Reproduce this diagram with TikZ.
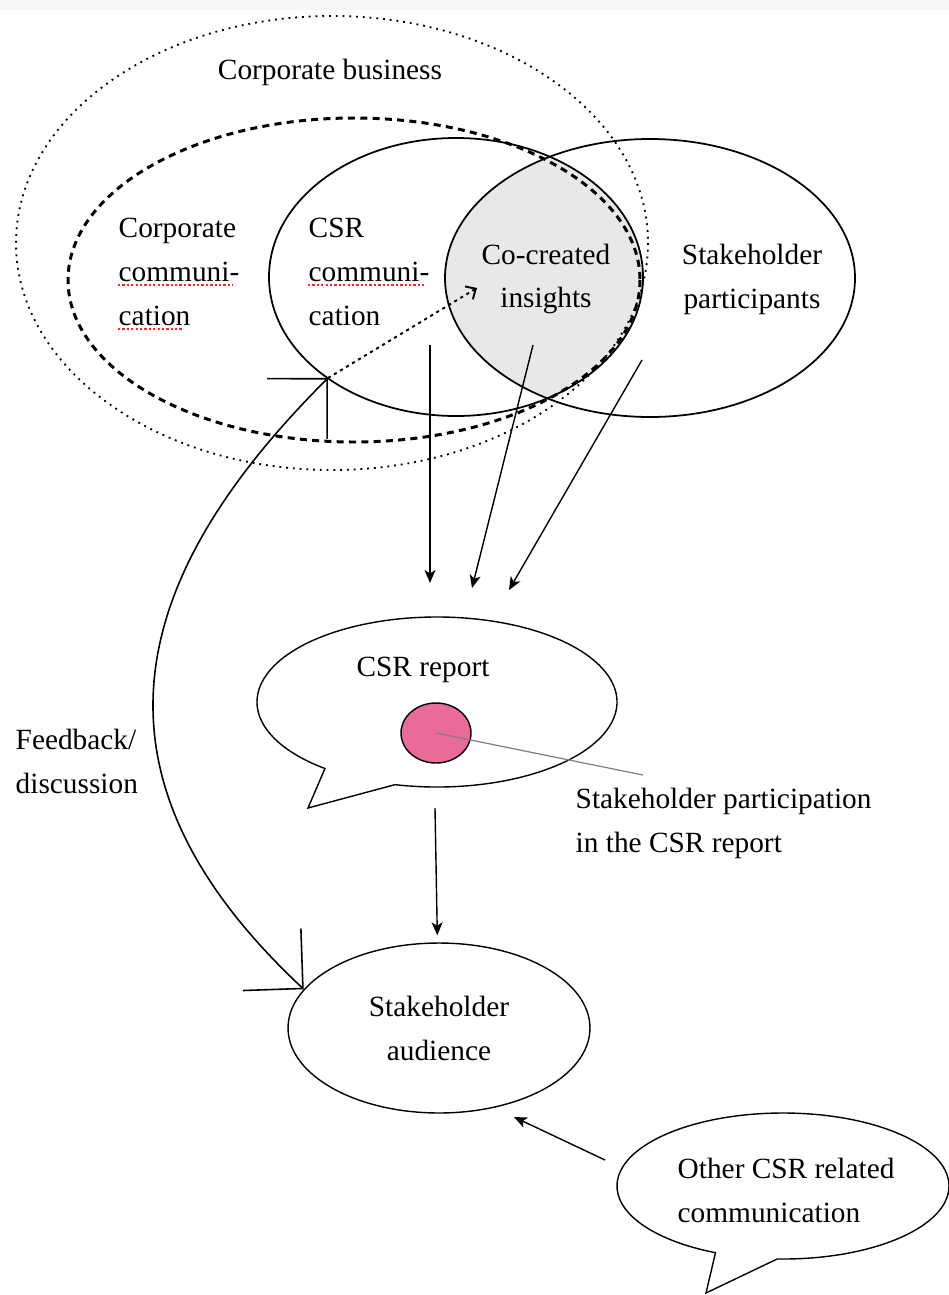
\documentclass[tikz,border=0pt]{standalone}
\usepackage{fontspec}
\setmainfont{Liberation Serif}
\usetikzlibrary{shapes,arrows.meta,positioning,calc}

\definecolor{lensgray}{RGB}{232,232,232}
\definecolor{stripgray}{RGB}{246,246,246}
\definecolor{dotpink}{RGB}{233,107,154}

\begin{document}
\begin{tikzpicture}[x=0.02cm, y=-0.02cm, >={Stealth[length=2.6mm, width=2.2mm, inset=0.7mm]}, line width=0.8pt]
    % Styles
    \tikzstyle{txt} = [align=left, inner sep=0pt, font=\fontsize{16.7}{25}\selectfont]
    \tikzstyle{ring} = [draw, line width=1pt]
    \tikzstyle{line} = [draw, ->]
    \tikzstyle{barb} = [draw, line width=0.9pt, {Straight Barb[angle=90:1.2cm]}-{Straight Barb[angle=90:1.2cm]}]
    \tikzstyle{spell} = [draw=red!85, line width=1.3pt, dash pattern=on 1.3pt off 1.2pt]

    \useasboundingbox (0,0) rectangle (949,1295);
    \fill[stripgray] (0,0) rectangle (949,10);

    % Centres
    \coordinate (busc) at (332,243);
    \coordinate (comc) at (354,280);
    \coordinate (csrc) at (456,277);
    \coordinate (stkc) at (650,278);
    \coordinate (repc) at (437,702);
    \coordinate (othc) at (783,1186);

    % Venn part
    \begin{scope}
        \clip (csrc) ellipse [x radius=187, y radius=139];
        \fill[lensgray] (stkc) ellipse [x radius=205, y radius=139];
    \end{scope}
    \draw[line width=1.05pt, dash pattern=on 1.05pt off 2.8pt] (busc) ellipse [x radius=316, y radius=227];
    \draw[line width=1.7pt, dash pattern=on 4pt off 3pt] (comc) ellipse [x radius=286, y radius=162];
    \path[ring] (csrc) ellipse [x radius=187, y radius=139];
    \path[ring] (stkc) ellipse [x radius=205, y radius=139];

    % Callouts
    \draw[fill=white] ($(repc)+(128.5:180 and 85)$) -- (308,808) -- ($(repc)+(103.5:180 and 85)$)
        arc [start angle=103.5, end angle=-231.5, x radius=180, y radius=85] -- cycle;
    \draw[fill=white] ($(othc)+(114:166 and 73)$) -- (706,1293) -- ($(othc)+(92:166 and 73)$)
        arc [start angle=92, end angle=-246, x radius=166, y radius=73] -- cycle;

    % Nodes
    \node[txt, anchor=center] (business) at (330,72) {Corporate business};
    \node[txt, anchor=west] (corpcomm) at (118,272) {Corporate\\communi-\\cation};
    \node[txt, anchor=west] (csrcomm) at (308,272) {CSR\\communi-\\cation};
    \node[txt, align=center] (insights) at (546,279) {Co-created\\insights};
    \node[txt, align=center] (partic) at (752,279) {Stakeholder\\participants};
    \node[txt] (report) at (423,670) {CSR report};
    \node[ellipse, draw, fill=dotpink, minimum width=1.4cm, minimum height=1.2cm, inner sep=0pt] (dot) at (436,733) {};
    \node[txt, anchor=west] (inreport) at (575,823) {Stakeholder participation\\in the CSR report};
    \node[txt, anchor=west] (feedback) at (15,761) {Feedback/\\discussion};
    \node[ellipse, draw, minimum width=6.04cm, minimum height=3.4cm, inner sep=0pt, txt, align=center] (audience) at (439,1028) {Stakeholder\\audience};
    \node[txt, anchor=west] (other) at (677,1190) {Other CSR related\\communication};

    % Spelling marks
    \path[spell] (118,285) -- (233,285);
    \path[spell] (118,329) -- (183,329);
    \path[spell] (308,285) -- (424,285);

    % Connectors
    \coordinate (fbtop) at (328,378);
    \coordinate (insin) at (477,288);
    \coordinate (csrout) at (430,345);
    \coordinate (repin1) at (430,583);
    \coordinate (insout) at (533,345);
    \coordinate (repin2) at (472,588);
    \coordinate (partout) at (642,360);
    \coordinate (repin3) at (509,590);
    \coordinate (repout) at (435,808);
    \coordinate (othout) at (605,1160);
    \coordinate (audin) at (514,1117);
    \coordinate (pointer) at (643,775);

    \draw[gray, line width=0.7pt] (dot.center) -- (pointer);
    \path[barb] (audience.164) .. controls (85,785) and (115,590) .. (fbtop);
    \draw[line width=1.1pt, dash pattern=on 1.8pt off 2.2pt, -{Straight Barb[length=1.6mm, width=3mm]}] (fbtop) -- (insin);
    \path[line] (csrout) -- (repin1);
    \path[line] (insout) -- (repin2);
    \path[line] (partout) -- (repin3);
    \path[line, shorten >=4pt] (repout) -- (audience);
    \path[line] (othout) -- (audin);
\end{tikzpicture}
\end{document}
